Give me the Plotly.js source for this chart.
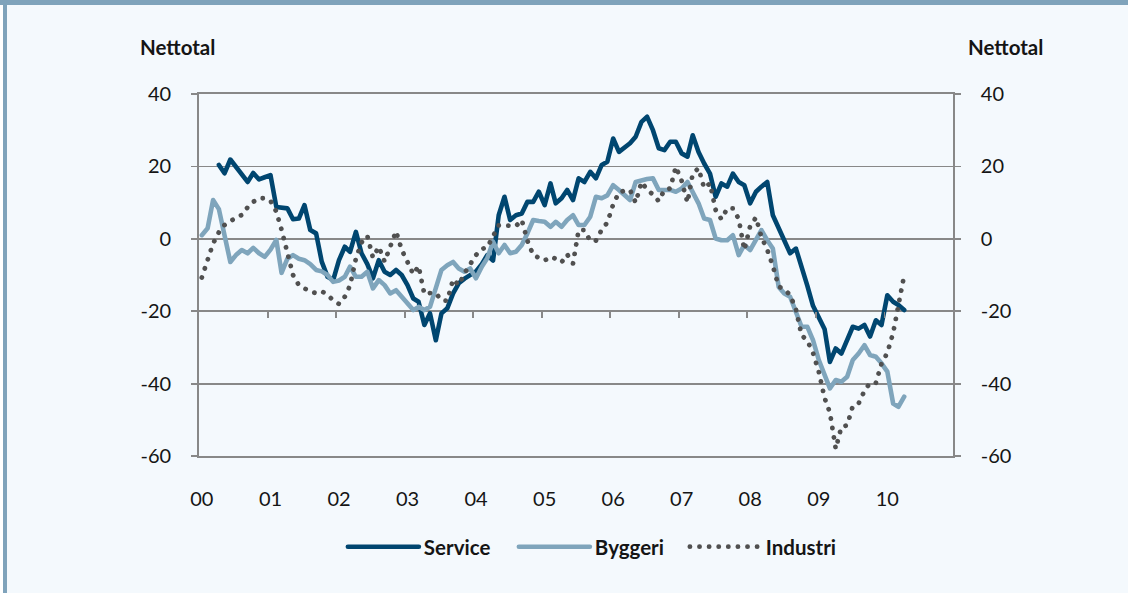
<!DOCTYPE html>
<html><head><meta charset="utf-8">
<script src="https://cdn.plot.ly/plotly-3.0.1.min.js"></script>
<style>
html,body{margin:0;padding:0;background:#ffffff;}
#wrap{position:relative;width:1128px;height:593px;overflow:hidden;}
#chart{position:absolute;left:0;top:0;width:1128px;height:593px;}
#topbar{position:absolute;left:0;top:0;width:1128px;height:5px;background:#7fa3bb;}
#leftbar{position:absolute;left:3px;top:0;width:4px;height:593px;background:#7fa3bb;}
#leftwhite{position:absolute;left:0;top:5px;width:3px;height:588px;background:#ffffff;}
path.js-line{stroke-linecap:round !important;stroke-linejoin:round !important;}
</style></head>
<body>
<div id="wrap"><div id="chart"></div><div id="topbar"></div><div id="leftwhite"></div><div id="leftbar"></div></div>
<script>
// Category / tick data
var yearTickLabels = ['00','01','02','03','04','05','06','07','08','09','10'];
var yearTickYears = [2000,2001,2002,2003,2004,2005,2006,2007,2008,2009,2010];
var yTicks = [-60,-40,-20,0,20,40];
var yTickLabels = ['-60','-40','-20','0','20','40'];

// Series (monthly nettotal)
var serviceStart = [2000, 4];
var service = [20.4,18.1,21.9,19.9,17.8,15.7,18.2,16.4,17.0,17.6,
  8.8,8.6,8.4,5.4,5.6,9.3,2.4,1.5,-6.3,-10.5,
  -11.4,-5.9,-2.2,-3.6,1.9,-4,-7,-10.9,-5.9,-9.1,
  -10,-8.6,-10,-12.8,-16.5,-17.4,-23.8,-20.6,-28,-20.6,
  -19.2,-15.1,-12.3,-11,-10,-9,-7,-4.5,-6,6.5,
  11.6,5.2,6.5,7,10.2,10.2,13,9.3,15.3,9.8,
  11.2,13.5,10.7,16.7,15.7,18.5,16.7,20.4,21.3,27.7,
  24,25,26.4,28.2,32.3,33.7,30,25,24.5,26.8,
  26.8,23.6,22.7,28.6,24,20.8,18,11.6,15.3,14.4,
  18,15.7,14.8,9.8,13,14.4,15.7,6.5,2.9,0.1,
  -4,-2.7,-7.3,-13,-18.5,-21.5,-25,-34,-30.3,-31.7,
  -28,-24.3,-24.8,-23.8,-27,-22.5,-23.8,-15.6,-17.4,-18.3,-19.7];

var byggeriStart = [2000, 1];
var byggeri = [1,2.9,10.7,8.2,1,-6.4,-4.5,-3.1,-4,-2.5,
  -4,-5,-3,-0.3,-9.4,-5.5,-4.5,-5.5,-5.9,-7,
  -8.6,-9,-10,-11.9,-11.5,-10.5,-7.7,-10.5,-10.5,-9.1,
  -13.7,-11.4,-12.8,-15.1,-14.2,-16,-17.5,-19.7,-18.8,-19.7,
  -18.8,-14,-8.6,-7.3,-6.4,-8.2,-9.1,-8.2,-10.9,-7.7,
  -5.4,-0.8,-4,-1.7,-4,-3.6,-1.7,1.5,5.2,4.9,
  4.7,3.3,4.7,3.3,5.2,6.5,3.8,3.8,6.1,11.6,
  11.2,12,14.8,13.5,12.1,10.7,15.7,16.2,16.5,16.7,
  13.5,13.5,13.5,13,13.9,15.7,13,9.8,5.6,5.2,
  0.1,-0.4,-0.4,1,-4.5,-1.7,-3.1,0.1,2.4,-0.4,
  -2.7,-13.3,-15.1,-16,-20.6,-24.3,-24.3,-28,-33.5,-38.1,
  -41.3,-39,-39.5,-38.1,-33.5,-31.7,-29.4,-32.1,-32.6,-34.4,
  -36.7,-45.5,-46.4,-43.6];

var industriStart = [2000, 1];
var industri = [-10.7,-5.3,-1.3,1.8,3.8,4.9,5.8,6.6,8.7,10.2,
  11.2,11.2,10.5,7.5,2.5,-3.6,-10,-12.8,-13.7,-14.6,
  -15,-14.5,-15.5,-17,-18,-16,-12.9,-5.5,-1,0.8,
  -5.2,-2.2,-6.3,-2.5,2.1,-3,-6.5,-9.8,-7.5,-15.3,
  -15,-15,-17,-17.1,-11.2,-12.8,-9.5,-7,-4.5,-2.8,
  -2.4,0.7,3.7,3.7,3.6,3.5,5.2,-0.5,-4.5,-5.3,
  -6,-5,-5.5,-6.5,-4.3,-6.8,2.4,2.4,-0.6,-0.5,
  2.5,4.5,9.5,12.8,13.3,13.5,10,15.7,13.6,12.2,
  10.4,13.5,13.9,19.9,16,10,18,19.5,14,15.3,
  8,5.4,8.4,8.4,5.5,-3.1,3.5,5.9,0.5,-3,
  -7.5,-13.2,-14,-15.5,-19.5,-26.6,-28.2,-31.5,-36.8,-44,
  -48,-58,-52,-51.5,-46.2,-45.5,-42,-39.8,-39.8,-34.5,
  -31.5,-26,-18.5,-10];

function monthDates(start, n){
  var out=[];
  for(var i=0;i<n;i++){
    var t=start[1]-1+i;
    var y=start[0]+Math.floor(t/12);
    var m=t%12+1;
    out.push(y+'-'+(m<10?'0':'')+m+'-16');
  }
  return out;
}

var grid = '#888888';
var txt = '#151515';
var fam = 'Lato, "Open Sans", sans-serif';

var traces = [
  {type:'scatter', mode:'lines', name:'Service', x:monthDates(serviceStart, service.length), y:service,
   line:{color:'#004670', width:4.6}, hoverinfo:'skip'},
  {type:'scatter', mode:'lines', name:'Byggeri', x:monthDates(byggeriStart, byggeri.length), y:byggeri,
   line:{color:'#7fa5bc', width:4.6}, hoverinfo:'skip'},
  {type:'scatter', mode:'lines', name:'Industri', x:monthDates(industriStart, industri.length), y:industri,
   line:{color:'#505050', width:4.8, dash:'0.1px,9.5px'}, hoverinfo:'skip'},
  {type:'scatter', mode:'lines', x:[], y:[], xaxis:'x2', yaxis:'y', showlegend:false, hoverinfo:'skip'},
  {type:'scatter', mode:'lines', x:[], y:[], xaxis:'x', yaxis:'y2', showlegend:false, hoverinfo:'skip'}
];

var xr = ['2000-01-01','2011-01-01'];
var layout = {
  width:1128, height:593,
  margin:{l:199, r:175, t:94, b:137},
  paper_bgcolor:'#f4f9fd', plot_bgcolor:'#f4f9fd',
  font:{family:fam, color:txt, size:20},
  showlegend:true,
  legend:{orientation:'h', x:0.531, xanchor:'center', y:-0.251, yanchor:'middle',
    font:{family:fam, size:20.5, color:txt, weight:'bold'}, itemwidth:71, entrywidth:85, entrywidthmode:'pixels',
    bgcolor:'rgba(0,0,0,0)', tracegroupgap:0},
  xaxis:{type:'date', range:xr, tickvals:yearTickYears.map(function(y){return y+'-01-16';}), ticktext:yearTickLabels,
    ticks:'', showgrid:false, showline:true, mirror:true, linecolor:grid, linewidth:1.8, zeroline:false, ticklabelstandoff:24,
    tickfont:{family:fam, size:20, color:txt}},
  xaxis2:{type:'date', range:xr, overlaying:'x', anchor:'free', position:0.4, side:'bottom',
    tickvals:yearTickYears.slice(1).map(function(y){return y+'-01-01';}), showticklabels:false,
    ticks:'outside', ticklen:6, tickwidth:1.8, tickcolor:grid, showgrid:false, showline:false, zeroline:false},
  yaxis:{range:[-60,40], tickvals:yTicks, ticktext:yTickLabels, ticks:'outside', ticklen:6, tickwidth:1.8, tickcolor:grid,
    showgrid:true, gridcolor:grid, gridwidth:1.8, showline:true, linecolor:grid, linewidth:1.8, zeroline:false,
    ticklabelstandoff:16, tickfont:{family:fam, size:20, color:txt}},
  yaxis2:{range:[-60,40], tickvals:yTicks, ticktext:yTickLabels, overlaying:'y', side:'right', anchor:'x', ticks:'outside', ticklen:6,
    tickwidth:1.8, tickcolor:grid, showgrid:false, showline:true, linecolor:grid, linewidth:1.8, zeroline:false,
    ticklabelstandoff:16, tickfont:{family:fam, size:20, color:txt}},
  annotations:[
    {text:'Nettotal', xref:'paper', yref:'paper', x:-0.0285, y:1.13, xanchor:'center', yanchor:'middle', showarrow:false,
     font:{family:fam, size:20.5, color:txt, weight:'bold'}},
    {text:'Nettotal', xref:'paper', yref:'paper', x:1.07, y:1.13, xanchor:'center', yanchor:'middle', showarrow:false,
     font:{family:fam, size:20.5, color:txt, weight:'bold'}}
  ]
};

Plotly.newPlot('chart', traces, layout, {displayModeBar:false, staticPlot:true});
</script>
</body></html>
